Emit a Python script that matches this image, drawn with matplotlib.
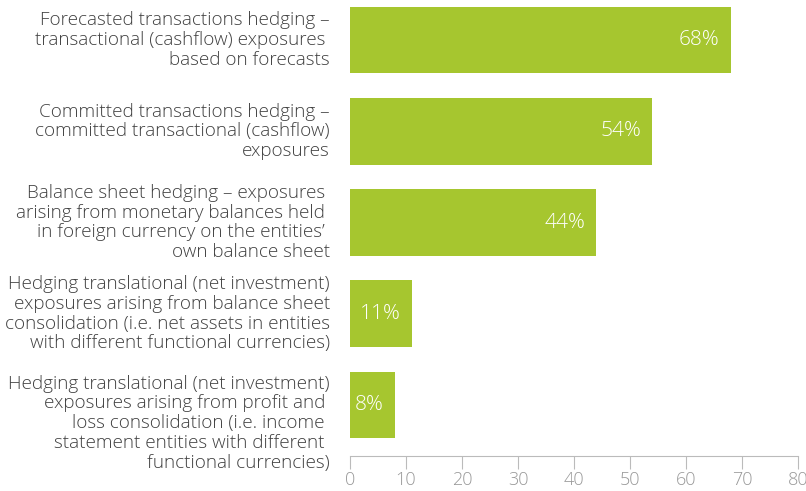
import matplotlib.pyplot as plt

# categories and survey shares (%)
labels = [
    "Forecasted transactions hedging \u2013\ntransactional (cashflow) exposures \nbased on forecasts",
    "Committed transactions hedging \u2013\ncommitted transactional (cashflow)\nexposures",
    "Balance sheet hedging \u2013 exposures \narising from monetary balances held \nin foreign currency on the entities\u2019 \nown balance sheet",
    "Hedging translational (net investment)\nexposures arising from balance sheet\nconsolidation (i.e. net assets in entities\nwith different functional currencies)",
    "Hedging translational (net investment)\nexposures arising from profit and \nloss consolidation (i.e. income \nstatement entities with different \nfunctional currencies)",
]
values = [68, 54, 44, 11, 8]
label_nudge = [0, 0, 0, 0, 0.2]  # last label sits a bit lower

green = '#a6c62f'
grey_txt = '#404040'

plt.rcParams['font.family'] = ['Open Sans', 'DejaVu Sans']

fig = plt.figure(figsize=(8.06, 4.91), dpi=100)
ax = fig.add_axes([350/806, 35/491, 448/806, 456/491])

ypos = list(range(len(values)))
ax.barh(ypos, values, height=0.73, color=green)

for y, v in zip(ypos, values):
    ax.annotate(f"{v}%", (v, y), xytext=(-8, 0), textcoords='offset points',
                ha='right', va='center', color='white', fontsize=15,
                fontweight='light')

for y, lab, dy in zip(ypos, labels, label_nudge):
    ax.text(-3.6, y + dy, lab, ha='right', va='center', fontsize=13.6,
            color=grey_txt, linespacing=1.13, fontweight='light')

ax.set_xlim(0, 80)
ax.set_ylim(4.56, -0.44)
ax.set_xticks(range(0, 81, 10))
ax.set_yticks([])

for s in ['top', 'right', 'left']:
    ax.spines[s].set_visible(False)
ax.spines['bottom'].set_color('#bbbbbb')
ax.tick_params(axis='x', length=9, color='#bbbbbb', labelcolor='#999999',
               labelsize=13, pad=2)
for t in ax.get_xticklabels():
    t.set_fontweight('light')

fig.savefig('out.png', dpi=100)
